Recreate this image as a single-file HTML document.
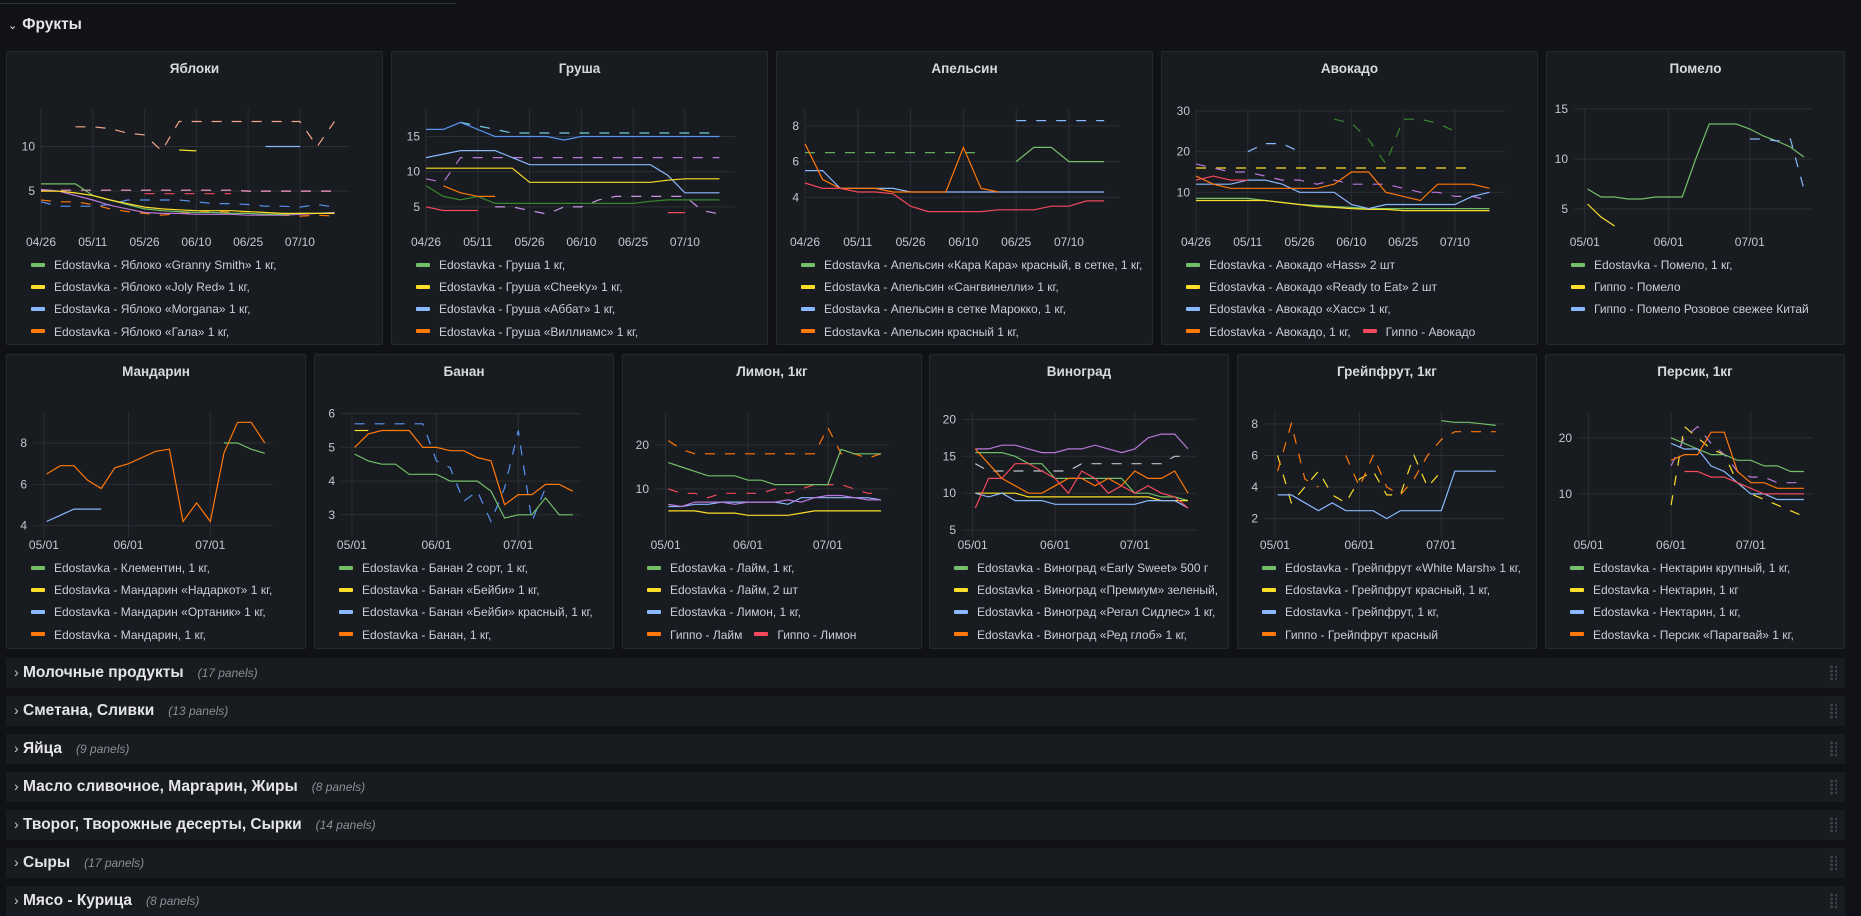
<!DOCTYPE html>
<html><head><meta charset="utf-8"><style>
html,body{margin:0;padding:0;background:#111217;width:1861px;height:916px;overflow:hidden;font-family:"Liberation Sans","DejaVu Sans",sans-serif;color:#ccccdc}
.panel{position:absolute;background:#181b1f;border:1px solid #25282d;border-radius:2px;box-sizing:border-box}
.ptitle{position:absolute;left:0;right:0;top:9px;text-align:center;font-size:13.5px;font-weight:bold;color:#d8d9da}
.leg{position:absolute;font-size:12px;white-space:nowrap;color:#ccccdc}
.sw{display:inline-block;width:14px;height:4px;border-radius:1px;vertical-align:middle;margin-right:9px;position:relative;top:-1px}
.row{position:absolute;left:6px;width:1839px;height:30px;background:#181b1f}
.row .t{position:absolute;left:17px;top:6px;font-size:15.5px;font-weight:bold;color:#e4e4ea}
.row .c{position:absolute;left:8px;top:6px;font-size:14px;color:#ccc}
.row .n{font-size:12px;font-style:italic;font-weight:normal;color:#8e8e96;margin-left:14px}
.drag{position:absolute;right:8px;top:7px;width:8px;height:16px;background-image:radial-gradient(#3b3e45 45%,transparent 50%);background-size:5px 4px}
svg{position:absolute;left:0;top:0}
</style></head><body>
<div style="position:absolute;left:0;top:3px;width:457px;height:1px;background:#2a2d33"></div>
<div style="position:absolute;left:8px;top:16px;font-size:15.5px;font-weight:bold;color:#e4e4ea"><span style="font-size:11px;font-weight:normal;margin-right:5px">&#8964;</span>Фрукты</div>
<div id="dash"></div>

<div class="row" style="top:658px"><span class="c">›</span><span class="t">Молочные продукты<span class="n">(17 panels)</span></span><div class="drag"></div></div>
<div class="row" style="top:696px"><span class="c">›</span><span class="t">Сметана, Сливки<span class="n">(13 panels)</span></span><div class="drag"></div></div>
<div class="row" style="top:734px"><span class="c">›</span><span class="t">Яйца<span class="n">(9 panels)</span></span><div class="drag"></div></div>
<div class="row" style="top:772px"><span class="c">›</span><span class="t">Масло сливочное, Маргарин, Жиры<span class="n">(8 panels)</span></span><div class="drag"></div></div>
<div class="row" style="top:810px"><span class="c">›</span><span class="t">Творог, Творожные десерты, Сырки<span class="n">(14 panels)</span></span><div class="drag"></div></div>
<div class="row" style="top:848px"><span class="c">›</span><span class="t">Сыры<span class="n">(17 panels)</span></span><div class="drag"></div></div>
<div class="row" style="top:886px"><span class="c">›</span><span class="t">Мясо - Курица<span class="n">(8 panels)</span></span><div class="drag"></div></div>

<script>
const G='#73bf69',Y='#fade2a',B='#8ab8ff',O='#ff780a',R='#f2495c',P='#b877d9',C='#6ed0e0',S='#f4a58a',K='#ff9fd0',D='#5794f2',W='#c0c4cc',L='#ca95e5',DG='#37872d';
const _=null;
const ticksA=[0,15,30,45,60,75];
const ticksALabels=['04/26','05/11','05/26','06/10','06/25','07/10'];
const ticksB=[5,36,66];
const ticksBLabels=['05/01','06/01','07/01'];
const appleGreen=[5.8,5.8,5.8,4.5,4,3.5,3,2.8,2.7,2.6,2.6,2.5,2.5,2.4,2.4,2.5,2.5,2.5];
const appleYellow=[5,5,4.8,4.5,4,3.6,3.2,3,2.9,2.8,2.8,2.8,2.7,2.6,2.5,2.5,2.5,2.5];
const appleYellow2=[_,_,_,_,_,_,_,_,9.6,9.5,_,_,_,_,_,_,_,_];
const appleBlue=[3.8,3.3,3.3,3.3,3.5,4,4,4,4,3.8,3.6,3.6,3.5,3.3,3.3,3.2,3.5,3.2];
const appleBlue2=[_,_,_,_,_,_,_,_,_,_,_,_,_,10,10,10,_,_];
const appleOrange=[4,3.8,3.8,3.5,3,2.7,2.5,2.3,2.5,2.6,2.8,2.6,2.5,2.4,2.3,2.2,2.3,2.2];
const appleSalmon=[_,_,12.2,12.2,12,11.5,11.3,9.5,12.8,12.8,12.8,12.8,12.8,12.8,12.8,12.8,10,12.8];
const applePink=[5.1,5.1,5.1,5.1,5.1,5.1,5.1,5.1,5.1,5.1,5.1,5.1,5,5,5,5,5,5];
const applePurple=[5.2,5,4.5,4,3.4,3,2.6,2.5,2.5,2.4,2.4,2.4,2.3,2.3,2.3,2.4,2.5,2.6];
const appleRed=[_,_,_,_,_,_,4.7,4.7,4.7,4.7,4.7,4.7,_,_,_,_,_,_];
const pearGreen=[8,6.5,6,6.5,5.5,5.5,5.5,5.5,5.5,5.5,5.5,5.5,5.5,5.8,6,6,6,6];
const pearYellow=[10.5,10.5,10.5,10.5,10.5,10.5,8.5,8.5,8.5,8.5,8.5,8.5,8.5,8.5,8.8,9,9,9];
const pearBlue=[12,12.5,13,13,13,12,11,11,11,11,11,11,11,11,9.5,7,7,7];
const pearDBlue=[16,16,17,16,15,15,15,15,14.5,15,15,15,15,15,15,15,15,15];
const pearOrange=[_,8,7,6.5,6.5,_,_,_,_,_,_,_,_,_,_,_,_,_];
const pearCyan=[_,_,17,16.5,16,15.5,15.5,15.5,15.5,15.5,15.5,15.5,15.5,15.5,15.5,15.5,15.5,15.5];
const pearPurple=[9,8.5,12,12,12,12,12,12,12,12,12,12,12,12,12,12,12,12];
const pearRed=[5,4.5,4.5,4.5,_,_,_,_,_,_,_,_,_,_,4.2,4.2,_,_];
const pearLav=[_,_,_,_,5,5,4.5,4,5,5,6,6.5,6.5,6.5,6.5,6.5,4.5,4];
const orGreenD=[6.5,6.5,6.5,6.5,6.5,6.5,6.5,6.5,6.5,6.5,6.5,_,_,_,_,_,_,_];
const orGreen=[_,_,_,_,_,_,_,_,_,_,_,_,6,6.8,6.8,6,6,6];
const orBlue=[5.5,5.5,4.5,4.5,4.5,4.5,4.3,4.3,4.3,4.3,4.3,4.3,4.3,4.3,4.3,4.3,4.3,4.3];
const orOrange=[7,5,4.5,4.5,4.5,4.3,4.3,4.3,4.3,6.8,4.5,4.3,_,_,_,_,_,_];
const orRed=[4.8,4.5,4.5,4.3,4.3,4.2,3.5,3.2,3.2,3.2,3.2,3.3,3.3,3.3,3.5,3.5,3.8,3.8];
const orBlueD=[_,_,_,_,_,_,_,_,_,_,_,_,8.3,8.3,8.3,8.3,8.3,8.3];
const avGreen=[8.5,8.5,8.5,8.5,8,7.5,7,6.8,6.5,6.3,6,6,6,6,6,6,6,6];
const avYellow=[8,8,8,8,8,7.5,7,6.5,6.3,6,5.8,5.8,5.5,5.5,5.5,5.5,5.5,5.5];
const avYellowD=[16,16,16,16,16,16,16,16,16,16,16,16,16,16,16,16,16,_];
const avBlue=[12,12,12,13,13,12,10,10,10,7,6,7,7,7,7,7,9,10];
const avOrange=[14,12,11,11,11,11,11,11,12,15,15,10,9,8,12,12,12,11];
const avRed=[13,14,13,13,_,_,_,_,_,_,_,_,_,_,_,_,_,_];
const avGreenD=[_,_,_,_,_,_,_,_,28,27,23,17,28,28,27,25,_,_];
const avPurple=[17,16,15,15,14,13,13,12,13,12,12,12,11,10,10,9,9,8];
const avBlueD=[_,_,_,20,22,22,20,_,_,_,_,_,_,_,_,_,_,_];
const pomGreen=[_,7,6.2,6.2,6,6,6.2,6.2,6.2,10,13.5,13.5,13.5,13,12.3,11.8,11.2,10.2];
const pomYellow=[_,5.5,4.2,3.3,_,_,_,_,_,_,_,_,_,_,_,_,_,_];
const pomBlue=[_,_,_,_,_,_,_,_,_,_,_,_,_,12,12,11.8,12,7];
const manOrange=[_,6.5,6.9,6.9,6.2,5.8,6.8,7,7.3,7.6,7.7,4.2,5.1,4.2,7.5,9,9,8];
const manGreen=[_,_,_,_,_,_,_,_,_,_,_,_,_,_,8,8,7.7,7.5];
const manBlue=[_,4.2,4.5,4.8,4.8,4.8,_,_,_,_,_,_,_,_,_,_,_,_];
const banGreen=[_,4.8,4.6,4.5,4.5,4.2,4.2,4.2,4,4,4,3.7,2.9,3,3,3.5,3,3];
const banYellow=[_,5.5,5.5,_,_,_,_,_,_,_,_,_,_,_,_,_,_,_];
const banBlueD=[_,5.7,5.7,5.7,5.7,5.7,5.7,4.6,4.4,3.4,3.7,2.8,3.8,5.5,2.8,3.8,_,_];
const banOrange=[_,5,5.4,5.5,5.5,5.5,5,5,4.9,4.9,4.7,4.6,3.3,3.6,3.6,3.9,3.9,3.7];
const limGreen=[_,16,15,14,13,13,13,12,12,11,11,11,11,11,19,18,18,18];
const limYellow=[_,5,5,5,4.5,4.5,4.5,4,4,4,4,4.5,5,5,5,5,5,5];
const limBlue=[_,6,6,6.5,6.5,7,7,7,7,7,6.5,8,8,8,8,8,8,7.5];
const limOrange=[_,21,19,18,18,18,18,18,18,18,18,18,18,24,18,18,17,18];
const limRed=[_,10,9,9,8,9,9,9,9,10,9,10,11,11,11,10,9,9];
const limPurple=[_,6.5,6,7,7,7,6.5,7,7,7,7.5,7,8,8.5,8.5,8,7.5,7.5];
const grGreen=[_,15.5,15.5,15.5,15,14,14,12,12,12,12,12,12,10,10,9.5,9.5,9];
const grYellow=[_,10,10,10,10,9.5,9.5,9.5,9.5,9.5,9.5,9.5,9.5,9.5,9.5,9,9,9];
const grBlue=[_,10,9.5,10,9,9,9,8.5,8.5,8.5,8.5,8.5,8.5,8.5,9,9,9,8];
const grOrange=[_,16,14,12,11,10,10,11,12,12,11,12,11,13,12,12,13,10];
const grRed=[_,8,12,12,14,14,13,12,10,13,12,10,11,10,11,10,9.5,8];
const grPurple=[_,16,16,16.5,16.5,16,15.5,15.5,16,16,16.5,16,15.5,16,17.5,18,18,16];
const grGrey=[_,14,13,13,13,13,13,13,13,14,14,14,14,14,14,14,15,15];
const gfGreen=[_,_,_,_,_,_,_,_,_,_,_,_,_,8.2,8.1,8.1,8,7.9];
const gfYellowD=[_,6,3,4,5,3.5,3,4.5,5,3.5,3.5,6,4,5,_,_,_,_];
const gfBlue=[_,3.5,3.5,3,2.5,3,2.5,2.5,2.5,2,2.5,2.5,2.5,2.5,5,5,5,5];
const gfOrangeD=[_,5,8,4.5,4,_,6,4,6,4,3.5,4.5,6,7,7.5,7.5,7.5,7.5];
const peGreen=[_,_,_,_,_,_,_,20,19,18,17,17,16,16,15,15,14,14];
const peYellowD=[_,_,_,_,_,_,_,8,22,20,18,17,12,10,9,8,7,6];
const peBlue=[_,_,_,_,_,_,_,19,18,18,15,14,12,10,10,9,9,9];
const peOrange=[_,_,_,_,_,_,_,16,17,17,21,21,14,12,12,11,11,11];
const pePurpleD=[_,_,_,_,_,_,_,15,20,22,19,17,14,13,13,12,12,12];
const peRed=[_,_,_,_,_,_,_,_,14,14,13,13,12,11,10,10,10,10];

const panels=[
 {id:'apples',title:'Яблоки',x:6,y:51,w:377,h:294,lm:34,ymin:0.3,ymax:14.2,yt:[5,10],tk:'A',
  leg:[[[G,'Edostavka - Яблоко «Granny Smith» 1 кг,']],[[Y,'Edostavka - Яблоко «Joly Red» 1 кг,']],[[B,'Edostavka - Яблоко «Morgana» 1 кг,']],[[O,'Edostavka - Яблоко «Гала» 1 кг,']]],
  s:[[applePink,K,1],[appleSalmon,S,1],[appleRed,R,1],[appleBlue,D,1],[appleOrange,O,1],[applePurple,P,0],[appleGreen,G,0],[appleYellow,Y,0],[appleYellow2,Y,0],[appleBlue2,B,0]]},
 {id:'pears',title:'Груша',x:391,y:51,w:377,h:294,lm:34,ymin:1.3,ymax:18.9,yt:[5,10,15],tk:'A',
  leg:[[[G,'Edostavka - Груша 1 кг,']],[[Y,'Edostavka - Груша «Cheeky» 1 кг,']],[[B,'Edostavka - Груша «Аббат» 1 кг,']],[[O,'Edostavka - Груша «Виллиамс» 1 кг,']]],
  s:[[pearCyan,C,1],[pearPurple,P,1],[pearLav,L,1],[pearDBlue,D,0],[pearBlue,B,0],[pearYellow,Y,0],[pearGreen,DG,0],[pearOrange,O,0],[pearRed,R,0]]},
 {id:'oranges',title:'Апельсин',x:776,y:51,w:377,h:294,lm:28,ymin:2,ymax:8.95,yt:[4,6,8],tk:'A',
  leg:[[[G,'Edostavka - Апельсин «Кара Кара» красный, в сетке, 1 кг,']],[[Y,'Edostavka - Апельсин «Сангвинелли» 1 кг,']],[[B,'Edostavka - Апельсин в сетке Марокко, 1 кг,']],[[O,'Edostavka - Апельсин красный 1 кг,']]],
  s:[[orGreenD,G,1],[orBlueD,B,1],[orGreen,G,0],[orBlue,B,0],[orOrange,O,0],[orRed,R,0]]},
 {id:'avocado',title:'Авокадо',x:1161,y:51,w:377,h:294,lm:34,ymin:0,ymax:30.5,yt:[10,20,30],tk:'A',
  leg:[[[G,'Edostavka - Авокадо «Hass» 2 шт']],[[Y,'Edostavka - Авокадо «Ready to Eat» 2 шт']],[[B,'Edostavka - Авокадо «Хасс» 1 кг,']],[[O,'Edostavka - Авокадо, 1 кг,'],[R,'Гиппо - Авокадо']]],
  s:[[avYellowD,Y,1],[avGreenD,DG,1],[avPurple,P,1],[avBlueD,B,1],[avGreen,G,0],[avYellow,Y,0],[avBlue,B,0],[avOrange,O,0],[avRed,R,0]]},
 {id:'pomelo',title:'Помело',x:1546,y:51,w:299,h:294,lm:27,ymin:2.6,ymax:15,yt:[5,10,15],tk:'B',
  leg:[[[G,'Edostavka - Помело, 1 кг,']],[[Y,'Гиппо - Помело']],[[B,'Гиппо - Помело Розовое свежее Китай']]],
  s:[[pomGreen,G,0],[pomYellow,Y,0],[pomBlue,B,1]]},
 {id:'mandarin',title:'Мандарин',x:6,y:354,w:300,h:295,lm:26,ymin:3.5,ymax:9.5,yt:[4,6,8],tk:'B',
  leg:[[[G,'Edostavka - Клементин, 1 кг,']],[[Y,'Edostavka - Мандарин «Надаркот» 1 кг,']],[[B,'Edostavka - Мандарин «Ортаник» 1 кг,']],[[O,'Edostavka - Мандарин, 1 кг,']]],
  s:[[manBlue,B,0],[manGreen,G,0],[manOrange,O,0]]},
 {id:'banana',title:'Банан',x:314,y:354,w:300,h:295,lm:26,ymin:2.37,ymax:6.05,yt:[3,4,5,6],tk:'B',
  leg:[[[G,'Edostavka - Банан 2 сорт, 1 кг,']],[[Y,'Edostavka - Банан «Бейби» 1 кг,']],[[B,'Edostavka - Банан «Бейби» красный, 1 кг,']],[[O,'Edostavka - Банан, 1 кг,']]],
  s:[[banBlueD,D,1],[banGreen,G,0],[banYellow,Y,0],[banOrange,O,0]]},
 {id:'lemon',title:'Лимон, 1кг',x:622,y:354,w:300,h:295,lm:32,ymin:-0.7,ymax:27.5,yt:[10,20],tk:'B',
  leg:[[[G,'Edostavka - Лайм, 1 кг,']],[[Y,'Edostavka - Лайм, 2 шт']],[[B,'Edostavka - Лимон, 1 кг,']],[[O,'Гиппо - Лайм'],[R,'Гиппо - Лимон']]],
  s:[[limOrange,O,1],[limRed,R,1],[limGreen,G,0],[limYellow,Y,0],[limBlue,B,0],[limPurple,P,0]]},
 {id:'grapes',title:'Виноград',x:929,y:354,w:300,h:295,lm:32,ymin:4.2,ymax:21,yt:[5,10,15,20],tk:'B',
  leg:[[[G,'Edostavka - Виноград «Early Sweet» 500 г']],[[Y,'Edostavka - Виноград «Премиум» зеленый,']],[[B,'Edostavka - Виноград «Регал Сидлес» 1 кг,']],[[O,'Edostavka - Виноград «Ред глоб» 1 кг,']]],
  s:[[grGrey,W,1],[grPurple,P,0],[grGreen,G,0],[grYellow,Y,0],[grBlue,B,0],[grOrange,O,0],[grRed,R,0]]},
 {id:'grapefruit',title:'Грейпфрут, 1кг',x:1237,y:354,w:300,h:295,lm:26,ymin:0.9,ymax:8.75,yt:[2,4,6,8],tk:'B',
  leg:[[[G,'Edostavka - Грейпфрут «White Marsh» 1 кг,']],[[Y,'Edostavka - Грейпфрут красный, 1 кг,']],[[B,'Edostavka - Грейпфрут, 1 кг,']],[[O,'Гиппо - Грейпфрут красный']]],
  s:[[gfYellowD,Y,1],[gfOrangeD,O,1],[gfGreen,G,0],[gfBlue,B,0]]},
 {id:'peach',title:'Персик, 1кг',x:1545,y:354,w:300,h:295,lm:32,ymin:2.5,ymax:24.6,yt:[10,20],tk:'B',
  leg:[[[G,'Edostavka - Нектарин крупный, 1 кг,']],[[Y,'Edostavka - Нектарин, 1 кг']],[[B,'Edostavka - Нектарин, 1 кг,']],[[O,'Edostavka - Персик «Парагвай» 1 кг,']]],
  s:[[peYellowD,Y,1],[pePurpleD,P,1],[peGreen,G,0],[peBlue,B,0],[peOrange,O,0],[peRed,R,0]]}
];
const NS='http://www.w3.org/2000/svg';
const dash=document.getElementById('dash');
panels.forEach(p=>{
  const d=document.createElement('div');
  d.className='panel';
  
  
  d.style.cssText=`left:${p.x}px;top:${p.y}px;width:${p.w}px;height:${p.h}px`;
  const t=document.createElement('div');t.className='ptitle';t.textContent=p.title;
  
  
  d.appendChild(t);
  const svg=document.createElementNS(NS,'svg');
  svg.setAttribute('width',p.w);svg.setAttribute('height',p.h);
  
  
  const L0=p.lm,R0=p.w-34,T0=57,B0=181;
  const x0=p.tk=='A'?0:1,x1=p.tk=='A'?89.5:89;
  const sx=v=>L0+(v-x0)/(x1-x0)*(R0-L0);
  const sy=v=>B0-(v-p.ymin)/(p.ymax-p.ymin)*(B0-T0);
  const ticks=p.tk=='A'?ticksA:ticksB, labs=p.tk=='A'?ticksALabels:ticksBLabels;
  ticks.forEach((tv,i)=>{
    const l=document.createElementNS(NS,'line');
    l.setAttribute('x1',sx(tv));l.setAttribute('x2',sx(tv));l.setAttribute('y1',T0);l.setAttribute('y2',B0+2);
    l.setAttribute('stroke','#2b2e34');
    
    
    svg.appendChild(l);
    const tx=document.createElementNS(NS,'text');
    tx.setAttribute('x',sx(tv));tx.setAttribute('y',B0+13);tx.setAttribute('text-anchor','middle');
    tx.setAttribute('font-size','12');tx.setAttribute('fill','#c4c7cf');tx.textContent=labs[i];
    
    
    svg.appendChild(tx);
  });
  p.yt.forEach(v=>{
    const l=document.createElementNS(NS,'line');
    l.setAttribute('x1',L0);l.setAttribute('x2',R0);l.setAttribute('y1',sy(v));l.setAttribute('y2',sy(v));
    l.setAttribute('stroke','#2b2e34');
    
    
    svg.appendChild(l);
    const tx=document.createElementNS(NS,'text');
    tx.setAttribute('x',L0-6);tx.setAttribute('y',sy(v)+4);tx.setAttribute('text-anchor','end');
    tx.setAttribute('font-size','12');tx.setAttribute('fill','#c4c7cf');tx.textContent=v;
    
    
    svg.appendChild(tx);
  });
  p.s.forEach(([vals,col,dsh])=>{
    let seg=[];const segs=[];
    vals.forEach((v,i)=>{if(v===null){if(seg.length)segs.push(seg);seg=[];}else seg.push(sx(i*5+(p.tk=='A'?0:1)).toFixed(1)+','+sy(v).toFixed(1));});
    if(seg.length)segs.push(seg);
    segs.forEach(sg=>{
      if(sg.length==1)sg.push((parseFloat(sg[0])+4)+','+sg[0].split(',')[1]);
      const pl=document.createElementNS(NS,'polyline');
      pl.setAttribute('points',sg.join(' '));pl.setAttribute('fill','none');pl.setAttribute('stroke',col);
      pl.setAttribute('stroke-width','1.2');if(dsh)pl.setAttribute('stroke-dasharray','10,10');
      
      
      svg.appendChild(pl);
    });
  });
  d.appendChild(svg);
  p.leg.forEach((row,ri)=>{
    const lg=document.createElement('div');lg.className='leg';
    lg.style.left='24px';lg.style.top=(206+ri*22.2)+'px';
    lg.style.maxWidth=(p.w-30)+'px';lg.style.overflow='hidden';
    
    
    lg.innerHTML=row.map(([c,txt])=>`<span style="margin-right:12px"><span class="sw" style="background:${c}"></span>${txt}</span>`).join('');
    d.appendChild(lg);
  });
  dash.appendChild(d);
});
</script>
</body></html>
